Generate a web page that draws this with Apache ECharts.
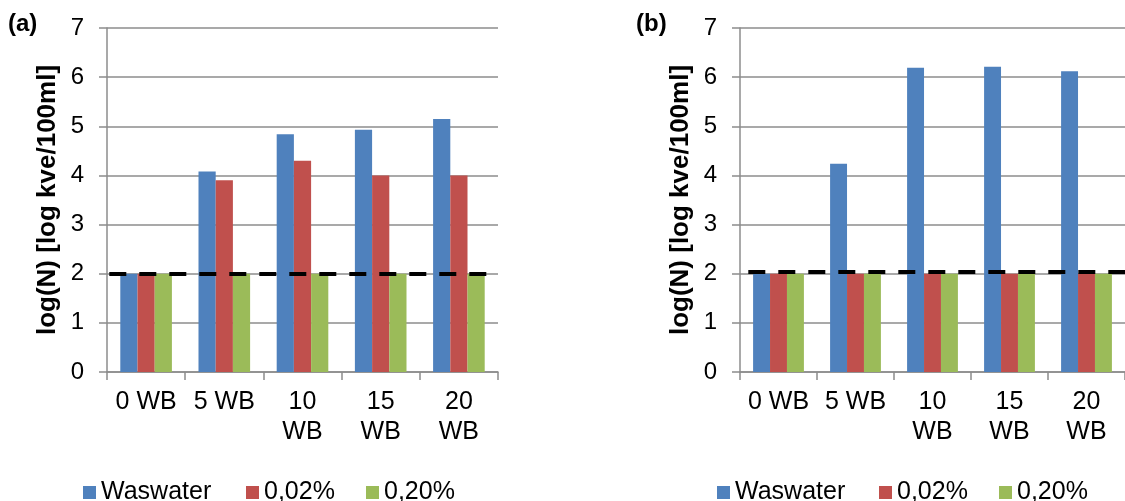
<!DOCTYPE html>
<html>
<head>
<meta charset="utf-8">
<script src="https://cdn.jsdelivr.net/npm/echarts@6/dist/echarts.min.js"></script>
<style>
  html, body { margin: 0; padding: 0; background: #ffffff; }
  #chart { width: 1125px; height: 501px; }
</style>
</head>
<body>
<div id="chart"></div>
<script>
// Sampling days and the three treatments
const categories = ['0 WB', '5 WB', '10 WB', '15 WB', '20 WB'];
const seriesNames = ['Waswater', '0,02%', '0,20%'];

// Panel (a): log(N) per sampling day
const wastewaterA = [2.00, 4.08, 4.84, 4.93, 5.15];
const lowDoseA    = [2.00, 3.90, 4.30, 4.00, 4.00];
const highDoseA   = [2.00, 2.00, 2.00, 2.00, 2.00];

// Panel (b): log(N) per sampling day
const wastewaterB = [2.00, 4.24, 6.19, 6.21, 6.12];
const lowDoseB    = [2.00, 2.00, 2.00, 2.00, 2.00];
const highDoseB   = [2.00, 2.00, 2.00, 2.00, 2.00];

// Detection limit drawn as a dashed line in each panel
const limitA = 2.00;
const limitB = 2.05;

const yTicks = { min: 0, max: 7, interval: 1 };
const panelLabels = ['(a)', '(b)'];
const yTitle = 'log(N) [log kve/100ml]';

const colors = ['#4F81BD', '#C0504D', '#9BBB59'];
const FONT = "'Liberation Sans', Arial, sans-serif";
const GRAY = '#8c8c8c';

const panels = [
  { grid: { left: 107, top: 28, width: 391, height: 344 },
    data: [wastewaterA, lowDoseA, highDoseA], limit: limitA, dashOffset: 27.7,
    legendLeft: [78, 241, 361], label: { x: 8, y: 12 } },
  { grid: { left: 740, top: 28, width: 390, height: 344 },
    data: [wastewaterB, lowDoseB, highDoseB], limit: limitB, dashOffset: 21.7,
    legendLeft: [712, 874, 994], label: { x: 636, y: 12 } }
];

const option = {
  animation: false,
  backgroundColor: '#ffffff',
  textStyle: { fontFamily: FONT },
  color: colors,
  grid: panels.map(p => p.grid),
  xAxis: panels.map((p, i) => ({
    type: 'category',
    gridIndex: i,
    data: categories,
    boundaryGap: true,
    axisLine: { show: true, lineStyle: { color: GRAY, width: 1.5 } },
    axisTick: { show: true, length: 8, inside: false, lineStyle: { color: GRAY, width: 1.5 } },
    axisLabel: {
      color: '#000', fontFamily: FONT, fontSize: 25, lineHeight: 30, margin: 15,
      interval: 0,
      formatter: v => (v.length > 4 ? v.replace(' ', '\n') : v)
    },
    splitLine: { show: false }
  })),
  yAxis: panels.map((p, i) => ({
    type: 'value',
    gridIndex: i,
    min: yTicks.min, max: yTicks.max, interval: yTicks.interval,
    name: yTitle,
    nameLocation: 'middle',
    nameRotate: 90,
    nameGap: 46,
    nameTextStyle: { color: '#000', fontFamily: FONT, fontSize: 26, fontWeight: 'bold' },
    axisLine: { show: true, lineStyle: { color: GRAY, width: 1.5 } },
    axisTick: { show: true, length: 8, inside: false, lineStyle: { color: GRAY, width: 1.5 } },
    axisLabel: { color: '#000', fontFamily: FONT, fontSize: 24, margin: 23 },
    splitLine: { show: true, lineStyle: { color: GRAY, width: 1.5 } }
  })),
  legend: panels.flatMap((p, i) => seriesNames.map((name, k) => ({
    data: [name],
    left: p.legendLeft[k],
    top: 475,
    icon: 'rect',
    itemWidth: 13,
    itemHeight: 13,
    selectedMode: false,
    textStyle: { color: '#000', fontFamily: FONT, fontSize: 25 }
  }))),
  graphic: panels.map((p, i) => ({
    type: 'text',
    left: p.label.x,
    top: p.label.y,
    style: { text: panelLabels[i], font: "bold 24px 'Liberation Sans', Arial, sans-serif", fill: '#000' }
  })),
  series: panels.flatMap((p, i) => p.data.map((vals, k) => {
    const s = {
      type: 'bar',
      name: seriesNames[k],
      xAxisIndex: i,
      yAxisIndex: i,
      data: vals,
      barGap: '0%',
      barCategoryGap: '34%',
      itemStyle: { color: colors[k] }
    };
    if (k === 2) {
      s.markLine = {
        silent: true,
        symbol: ['none', 'none'],
        z: 10,
        label: { show: false },
        lineStyle: { color: '#000', width: 4, type: [17, 13], dashOffset: p.dashOffset },
        data: [{ yAxis: p.limit }]
      };
    }
    return s;
  }))
};

const chart = echarts.init(document.getElementById('chart'), null, { renderer: 'canvas' });
chart.setOption(option);
</script>
</body>
</html>
